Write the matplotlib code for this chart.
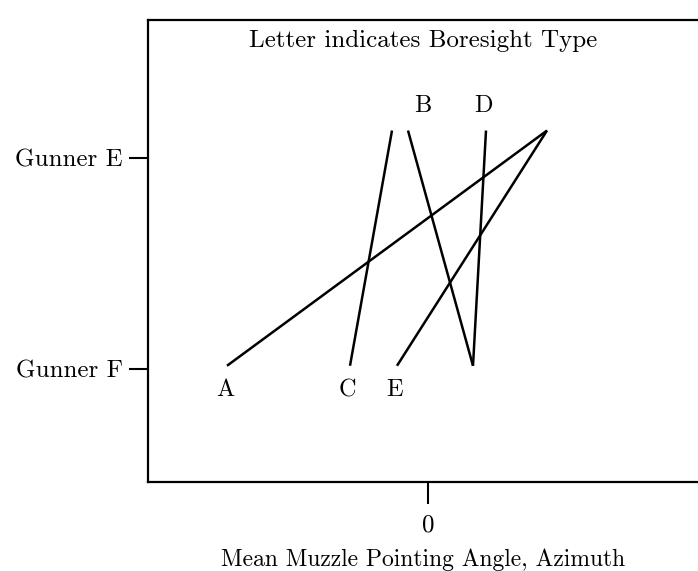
import matplotlib
matplotlib.use("Agg")
import matplotlib.pyplot as plt

plt.rcParams['font.family'] = ['cmr10', 'DejaVu Serif']
plt.rcParams['axes.formatter.use_mathtext'] = True

# Mean muzzle pointing angle (azimuth) per boresight type, for each gunner
boresight = ["A", "B", "C", "D", "E"]
gunner_f = [-2.01, 0.45, -0.78, 0.45, -0.31]
gunner_e = [1.19, -0.20, -0.36, 0.58, 1.19]
# which end of each line carries its letter
label_end = ["F", "E", "F", "E", "F"]
label_shift = [-0.02, 0.15, -0.03, -0.02, -0.02]

gunners = ["Gunner F", "Gunner E"]
gunner_pos = [0, 1]
line_lo, line_hi = 0.015, 1.13

fig = plt.figure(figsize=(6.98, 5.71), dpi=100)
ax = fig.add_axes([148 / 698, 89 / 571, 550 / 698, 462 / 571])

for name, f, e, end, dx in zip(boresight, gunner_f, gunner_e, label_end, label_shift):
    ax.plot([f, e], [line_lo, line_hi], color="black", lw=1.8, solid_capstyle="butt")
    if end == "F":
        ax.text(f + dx, line_lo - 0.115, name, ha="center", va="center", fontsize=17.5)
    else:
        ax.text(e + dx, line_hi + 0.115, name, ha="center", va="center", fontsize=17.5)

ax.text(0.50, 0.955, "Letter indicates Boresight Type", transform=ax.transAxes,
        ha="center", va="center", fontsize=18)

ax.set_xlim(-2.8, 2.7)
ax.set_ylim(-0.536, 1.654)
ax.set_xticks([0])
ax.set_xticklabels(["0"])
ax.set_yticks(gunner_pos)
ax.set_yticklabels(gunners, fontsize=18)
ax.set_xlabel("Mean Muzzle Pointing Angle, Azimuth", fontsize=17, labelpad=9)

ax.spines["right"].set_visible(False)
for s in ["left", "top", "bottom"]:
    ax.spines[s].set_linewidth(1.6)
ax.tick_params(axis="y", length=14, width=1.5, pad=4)
ax.tick_params(axis="x", length=16, width=1.5, pad=7, labelsize=18)

fig.savefig("out.png", dpi=100)
